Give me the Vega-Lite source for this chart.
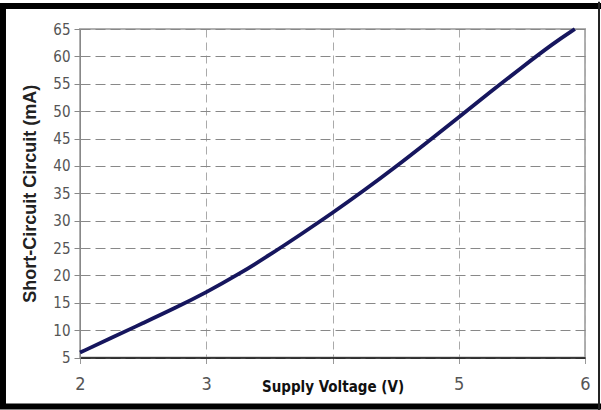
{
  "$schema": "https://vega.github.io/schema/vega-lite/v6.json",
  "width": 505,
  "height": 328.5,
  "autosize": "none",
  "padding": {"left": 80, "top": 29, "right": 16, "bottom": 52.5},
  "background": "white",
  "config": {
    "view": {"stroke": "#b0b0b0", "strokeWidth": 2},
    "font": "Liberation Sans",
    "axisY": {"tickCount": 13}
  },
  "layer": [
    {
      "data": {"values": [{"frame": "outer"}]},
      "mark": {"type": "rect", "fill": null, "stroke": "black", "strokeWidth": 6, "clip": false},
      "encoding": {
        "x": {"datum": 1.39, "type": "quantitative"},
        "x2": {"datum": 6.17},
        "y": {"datum": 69.2, "type": "quantitative"},
        "y2": {"datum": -3.95}
      }
    },
    {
      "data": {"values": [{"frame": "right"}]},
      "mark": {"type": "rule", "stroke": "#222", "strokeWidth": 2, "clip": false},
      "encoding": {
        "x": {"datum": 6.111, "type": "quantitative"},
        "y": {"datum": 70, "type": "quantitative"},
        "y2": {"datum": -4.6}
      }
    },
    {
      "data": {"values": [
        {"v": 2.0, "i": 5.9},
        {"v": 2.25, "i": 8.6},
        {"v": 2.5, "i": 11.3},
        {"v": 2.75, "i": 14.0},
        {"v": 3.0, "i": 16.9},
        {"v": 3.25, "i": 20.1},
        {"v": 3.5, "i": 23.7},
        {"v": 3.75, "i": 27.5},
        {"v": 4.0, "i": 31.4},
        {"v": 4.25, "i": 35.5},
        {"v": 4.5, "i": 39.8},
        {"v": 4.75, "i": 44.3},
        {"v": 5.0, "i": 48.9},
        {"v": 5.25, "i": 53.5},
        {"v": 5.5, "i": 58.0},
        {"v": 5.75, "i": 62.4},
        {"v": 5.92, "i": 65.0}
      ]},
      "mark": {"type": "line", "color": "#16165e", "strokeWidth": 3.8, "interpolate": "basis"},
      "encoding": {
        "x": {
          "field": "v", "type": "quantitative",
          "scale": {"domain": [2, 6], "nice": false, "zero": false},
          "axis": {
            "values": [2, 3, 4, 5, 6],
            "format": "d",
            "labelExpr": "datum.value == 4 ? '' : datum.label",
            "title": "Supply Voltage (V)",
            "titleFont": "DejaVu Sans Condensed, Liberation Sans, sans-serif",
            "titleFontSize": 15,
            "titleFontWeight": "bold",
            "titleColor": "#111",
            "titleY": 34,
            "titleBaseline": "alphabetic",
            "labelFont": "DejaVu Sans Condensed, Liberation Sans, sans-serif",
            "labelFontSize": 18,
            "labelColor": "#555",
            "labelPadding": 12,
            "labelFlush": false,
            "labelOverlap": false,
            "domainColor": "#111",
            "domainWidth": 1.5,
            "tickColor": "#999",
            "tickSize": 6,
            "grid": true,
            "gridColor": "#aaa",
            "gridDash": [8, 5],
            "gridWidth": 1
          }
        },
        "y": {
          "field": "i", "type": "quantitative",
          "scale": {"domain": [5, 65], "nice": false, "zero": false},
          "axis": {
            "values": [5, 10, 15, 20, 25, 30, 35, 40, 45, 50, 55, 60, 65],
            "format": "d",
            "title": "Short-Circuit Circuit (mA)",
            "titleFont": "Liberation Sans",
            "titleFontSize": 18,
            "titleFontWeight": "bold",
            "titleColor": "#222",
            "titlePadding": 13,
            "labelFont": "DejaVu Sans Condensed, Liberation Sans, sans-serif",
            "labelFontSize": 15,
            "labelColor": "#555",
            "labelPadding": 4,
            "labelFlush": false,
            "labelOverlap": false,
            "domainColor": "#888",
            "tickColor": "#888",
            "tickSize": 6,
            "grid": true,
            "gridColor": "#888",
            "gridDash": [10, 5],
            "gridWidth": 1
          }
        }
      }
    }
  ]
}
